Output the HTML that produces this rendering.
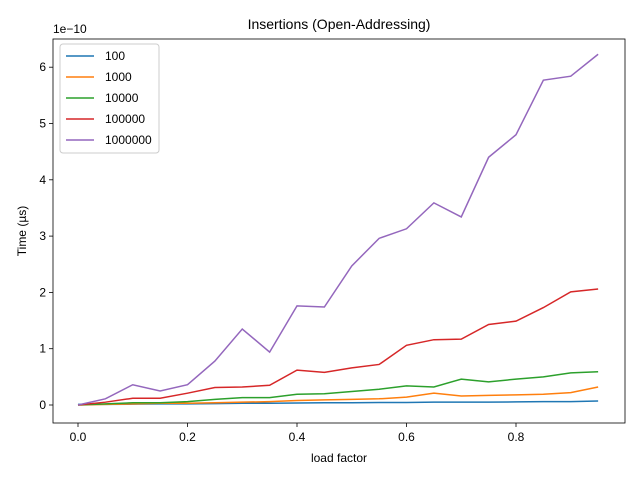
<!DOCTYPE html>
<html><head><meta charset="utf-8"><style>
body{margin:0;background:#fff}
svg{font-family:"Liberation Sans","DejaVu Sans",sans-serif;display:block}
</style></head><body>
<svg id="chart" width="640" height="480"></svg>
<script>
const categories=[0,0.05,0.1,0.15,0.2,0.25,0.3,0.35,0.4,0.45,0.5,0.55,0.6,0.65,0.7,0.75,0.8,0.85,0.9,0.95];
const seriesNames=["100","1000","10000","100000","1000000"];
const s100=[0.01,0.01,0.015,0.02,0.02,0.025,0.03,0.03,0.035,0.04,0.04,0.045,0.045,0.05,0.05,0.05,0.055,0.06,0.06,0.07];
const s1000=[0,0.01,0.02,0.03,0.03,0.04,0.05,0.06,0.08,0.09,0.10,0.11,0.14,0.21,0.16,0.17,0.18,0.19,0.22,0.32];
const s10000=[0,0.02,0.04,0.04,0.06,0.10,0.13,0.13,0.19,0.20,0.24,0.28,0.34,0.32,0.46,0.41,0.46,0.50,0.57,0.59];
const s100000=[0,0.05,0.12,0.12,0.21,0.31,0.32,0.35,0.62,0.58,0.66,0.72,1.06,1.16,1.17,1.43,1.49,1.73,2.01,2.06];
const s1000000=[0,0.11,0.36,0.25,0.36,0.78,1.35,0.94,1.76,1.74,2.47,2.96,3.13,3.59,3.34,4.40,4.80,5.77,5.84,6.23];
const xTicks=[0,0.2,0.4,0.6,0.8];
const xTickLabels=["0.0","0.2","0.4","0.6","0.8"];
const yTicks=[0,1,2,3,4,5,6];
const yTickLabels=["0","1","2","3","4","5","6"];
const colors=["#1f77b4","#ff7f0e","#2ca02c","#d62728","#9467bd"];
const allSeries=[s100,s1000,s10000,s100000,s1000000];

const L=53,R=625,T=39,B=423;
const x=v=>78+v*(516-78)/0.8;
const y=v=>405-v*56.3;
const svg=document.getElementById('chart');
const NS="http://www.w3.org/2000/svg";
function mk(tag,attrs,parent){const e=document.createElementNS(NS,tag);for(const k in attrs)e.setAttribute(k,attrs[k]);(parent||svg).appendChild(e);return e;}

let t=mk('text',{x:339,y:29,'text-anchor':'middle','font-size':14});t.textContent="Insertions (Open-Addressing)";



xTicks.forEach((v,i)=>{
  const l=mk('line',{x1:x(v),x2:x(v),y1:B,y2:B+4,stroke:'#000','stroke-width':0.8});
  
  
  const tx=mk('text',{x:x(v),y:B+18,'text-anchor':'middle','font-size':12});tx.textContent=xTickLabels[i];
  
  
});
yTicks.forEach((v,i)=>{
  const l=mk('line',{x1:L-4,x2:L,y1:y(v),y2:y(v),stroke:'#000','stroke-width':0.8});
  
  
  const tx=mk('text',{x:L-7,y:y(v)+4,'text-anchor':'end','font-size':12});tx.textContent=yTickLabels[i];
  
  
});
t=mk('text',{x:53,y:33,'font-size':12});t.textContent="1e\u221210";


t=mk('text',{x:339,y:462,'text-anchor':'middle','font-size':12});t.textContent="load factor";


t=mk('text',{x:26,y:231,'text-anchor':'middle','font-size':12,transform:'rotate(-90 26 231)'});t.textContent="Time (µs)";



allSeries.forEach((s,i)=>{
  const p=mk('polyline',{points:s.map((v,j)=>x(categories[j])+','+y(v)).join(' '),fill:'none',stroke:colors[i],'stroke-width':1.5});
  
  
});

const fr=mk('rect',{x:L,y:T,width:R-L,height:B-T,fill:'none',stroke:'#000','stroke-width':0.8});



const lg=mk('g',{});


mk('rect',{x:60,y:44,width:99,height:109,fill:'#fff',stroke:'#ccc',rx:3},lg);
seriesNames.forEach((n,i)=>{
  const cy=56+i*21;
  const g=mk('g',{},lg);
  
  
  mk('line',{x1:66,x2:94,y1:cy,y2:cy,stroke:colors[i],'stroke-width':1.5},g);
  const tx=mk('text',{x:105,y:cy+4,'font-size':12},g);tx.textContent=n;
});
</script>
</body></html>
